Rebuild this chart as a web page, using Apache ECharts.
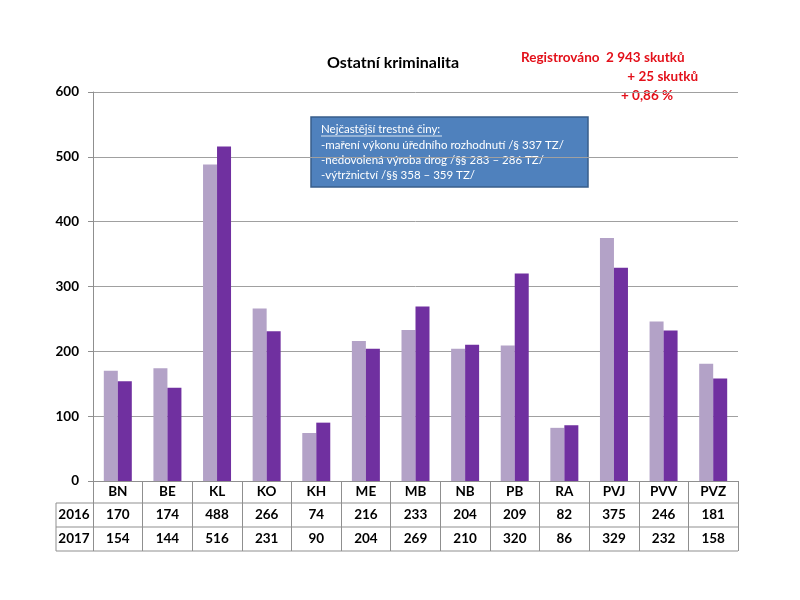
<!DOCTYPE html>
<html>
<head>
<meta charset="utf-8">
<script src="https://cdn.jsdelivr.net/npm/echarts@6/dist/echarts.min.js"></script>
<style>html,body{margin:0;padding:0;background:#fff}#c{width:800px;height:600px}</style>
</head>
<body>
<div id="c"></div>
<script>
const categories = ['BN','BE','KL','KO','KH','ME','MB','NB','PB','RA','PVJ','PVV','PVZ'];
const seriesNames = ['2016','2017'];
const values2016 = [170,174,488,266,74,216,233,204,209,82,375,246,181];
const values2017 = [154,144,516,231,90,204,269,210,320,86,329,232,158];
const yTicks = [0,100,200,300,400,500,600];
const titleText = 'Ostatní kriminalita';
const noteLines = ['Registrováno  2 943 skutků', '+ 25 skutků', '+ 0,86 %'];
const boxTitle = 'Nejčastější trestné činy:';
const boxLines = ['-maření výkonu úředního rozhodnutí /§ 337 TZ/', '-nedovolená výroba drog /§§ 283 – 286 TZ/', '-výtržnictví /§§ 358 – 359 TZ/'];

const FONT = 'Lato, "Open Sans", sans-serif';
const lineCol = '#8f8f8f';
const red = '#e3101a';
const chart = echarts.init(document.getElementById('c'), null, {renderer:'canvas'});

const graphics = [
  {type:'text', x:393, y:63, style:{text:titleText, font:'bold 16px ' + FONT, fill:'#000', align:'center', verticalAlign:'middle'}},
  {type:'text', x:521, y:51, style:{text:noteLines[0], font:'bold 13.5px ' + FONT, fill:red}},
  {type:'text', x:698, y:70, style:{text:noteLines[1], font:'bold 13.5px ' + FONT, fill:red, align:'right'}},
  {type:'text', x:621, y:89, style:{text:noteLines[2], font:'bold 13.5px ' + FONT, fill:red}},
  {type:'rect', shape:{x:311, y:117, width:277, height:70}, style:{fill:'#4f81bd', stroke:'#385d8a', lineWidth:1.5}},
  {type:'text', x:321, y:123, style:{text:boxTitle, font:'11.5px ' + FONT, fill:'#fff'}},
  {type:'line', shape:{x1:321, y1:136, x2:442, y2:136}, style:{stroke:'#fff', lineWidth:0.8}},
  {type:'text', x:321, y:139, style:{text:boxLines[0], font:'11.5px ' + FONT, fill:'#fff'}},
  {type:'text', x:321, y:154, style:{text:boxLines[1], font:'11.5px ' + FONT, fill:'#fff'}},
  {type:'text', x:321, y:169, style:{text:boxLines[2], font:'11.5px ' + FONT, fill:'#fff'}},
  {type:'line', shape:{x1:56, y1:503, x2:738, y2:503}, style:{stroke:lineCol, lineWidth:1}},
  {type:'line', shape:{x1:56, y1:527, x2:738, y2:527}, style:{stroke:lineCol, lineWidth:1}},
  {type:'line', shape:{x1:56, y1:551, x2:738, y2:551}, style:{stroke:lineCol, lineWidth:1}},
  {type:'line', shape:{x1:56, y1:503, x2:56, y2:551}, style:{stroke:lineCol, lineWidth:1}},
  {type:'text', x:74, y:515, style:{text:seriesNames[0], font:'bold 13.5px ' + FONT, fill:'#000', align:'center', verticalAlign:'middle'}},
  {type:'text', x:74, y:539, style:{text:seriesNames[1], font:'bold 13.5px ' + FONT, fill:'#000', align:'center', verticalAlign:'middle'}}
];

chart.setOption({
  animation:false,
  backgroundColor:'#fff',
  grid:{left:93, right:62, top:92, bottom:119, containLabel:false},
  xAxis:{
    type:'category', data:categories,
    axisLine:{lineStyle:{color:lineCol, width:1}},
    axisTick:{show:true, length:70, lineStyle:{color:lineCol, width:1}},
    axisLabel:{
      margin:0, interval:0,
      formatter:function(v, i){ return '{c|' + v + '}\n{v|' + values2016[i] + '}\n{v|' + values2017[i] + '}'; },
      rich:{
        c:{fontWeight:'bold', fontSize:13.5, fontFamily:FONT, color:'#000', lineHeight:22, height:22, verticalAlign:'middle'},
        v:{fontWeight:'bold', fontSize:13.5, fontFamily:FONT, color:'#000', lineHeight:24, height:24, verticalAlign:'middle'}
      }
    }
  },
  yAxis:{
    type:'value', min:yTicks[0], max:yTicks[yTicks.length-1], interval:100,
    axisLine:{show:true, lineStyle:{color:lineCol, width:1}},
    axisTick:{show:true, length:5, lineStyle:{color:lineCol}},
    axisLabel:{fontWeight:'bold', fontSize:13.5, fontFamily:FONT, color:'#000', margin:14},
    splitLine:{lineStyle:{color:'#a0a0a0', width:1}}
  },
  series:[
    {name:seriesNames[0], type:'bar', data:values2016, barWidth:14, barGap:'0%', itemStyle:{color:'#b3a2c7'}},
    {name:seriesNames[1], type:'bar', data:values2017, barWidth:14, barGap:'0%', itemStyle:{color:'#7030a0'}}
  ],
  graphic:graphics
});
</script>
</body>
</html>
